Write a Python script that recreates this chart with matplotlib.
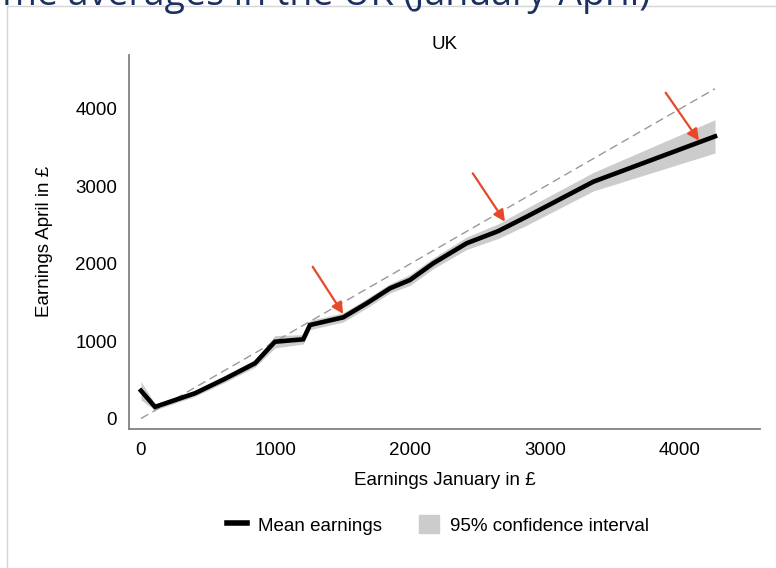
import numpy as np
import matplotlib
matplotlib.use("Agg")
import matplotlib.pyplot as plt
from matplotlib.lines import Line2D
from matplotlib.patches import Patch

plt.rcParams['font.family'] = ['Liberation Sans', 'DejaVu Sans']

# earnings in January (bins) and mean earnings in April
jan = [0, 104, 401, 620, 846, 994, 1204, 1254, 1501, 1675, 1848, 1996,
       2169, 2417, 2650, 2862, 3357, 4260]
apr = [359, 150, 326, 510, 713, 992, 1023, 1208, 1307, 1488, 1682, 1789,
       2005, 2264, 2420, 2607, 3059, 3645]
# half width of the 95% confidence interval
ci = [120, 40, 40, 45, 50, 80, 60, 60, 60, 60, 60, 70,
      70, 80, 95, 110, 120, 215]

# arrows: (tail x, tail y, head x, head y)
arrows = [(1274, 1961, 1501, 1350),
          (2462, 3168, 2701, 2543),
          (3894, 4209, 4141, 3589)]

jan = np.array(jan)
apr = np.array(apr)
ci = np.array(ci)

fs = 13.5

fig = plt.figure(figsize=(7.76, 5.68), dpi=100)
ax = fig.add_axes([129/776, 1-428.5/568, (760-129)/776, (428.5-55)/568])

ax.fill_between(jan, apr-ci, apr+ci, color="#cccccc", linewidth=0, zorder=1)
ax.plot([0, jan.max()], [0, jan.max()], color="#999999", lw=1,
        linestyle=(0, (6, 3.5)), zorder=2)
ax.plot(jan, apr, color="black", lw=3.3, zorder=3, solid_joinstyle="miter")

for x0, y0, x1, y1 in arrows:
    ax.annotate("", xy=(x1, y1), xytext=(x0, y0),
                arrowprops=dict(arrowstyle="-|>", color="#e8482a", lw=1.6,
                                mutation_scale=17, shrinkA=0, shrinkB=0),
                zorder=4)

ax.set_xlim(-89, 4594)
ax.set_ylim(-129, 4696)
ax.set_xticks([0, 1000, 2000, 3000, 4000])
ax.set_yticks([0, 1000, 2000, 3000, 4000])
ax.tick_params(length=0, labelsize=fs)
ax.tick_params(axis="x", pad=10)
ax.tick_params(axis="y", pad=8.5)
for s in ["top", "right"]:
    ax.spines[s].set_visible(False)
for s in ["left", "bottom"]:
    ax.spines[s].set_color("#808080")
    ax.spines[s].set_linewidth(1.3)

ax.set_title("UK", fontsize=fs, pad=4)
ax.set_xlabel("Earnings January in £", fontsize=fs, labelpad=9)
ax.set_ylabel("Earnings April in £", fontsize=fs, labelpad=16)

handles = [Line2D([0], [0], color="black", lw=4),
           Patch(facecolor="#cccccc", edgecolor="#cccccc")]
fig.legend(handles, ["Mean earnings", "95% confidence interval"], ncol=2,
           loc="center", bbox_to_anchor=(438/776, 1-525/568), frameon=False,
           fontsize=fs, handlelength=1.05, handleheight=1.1,
           handletextpad=0.6, columnspacing=2.0)

# slide frame and clipped slide heading
fig.add_artist(Line2D([6.5/776, 6.5/776], [0, 1-6/568], color="#d6d6d6", lw=1))
fig.add_artist(Line2D([6.5/776, 1], [1-6/568, 1-6/568], color="#d6d6d6", lw=1))
fig.text(650/776, 1-5/568, "Income averages in the UK (January-April)",
         ha="right", va="baseline", fontsize=27, color="#1c3160",
         family=["Open Sans", "DejaVu Sans"])

fig.savefig("out.png", dpi=100)
